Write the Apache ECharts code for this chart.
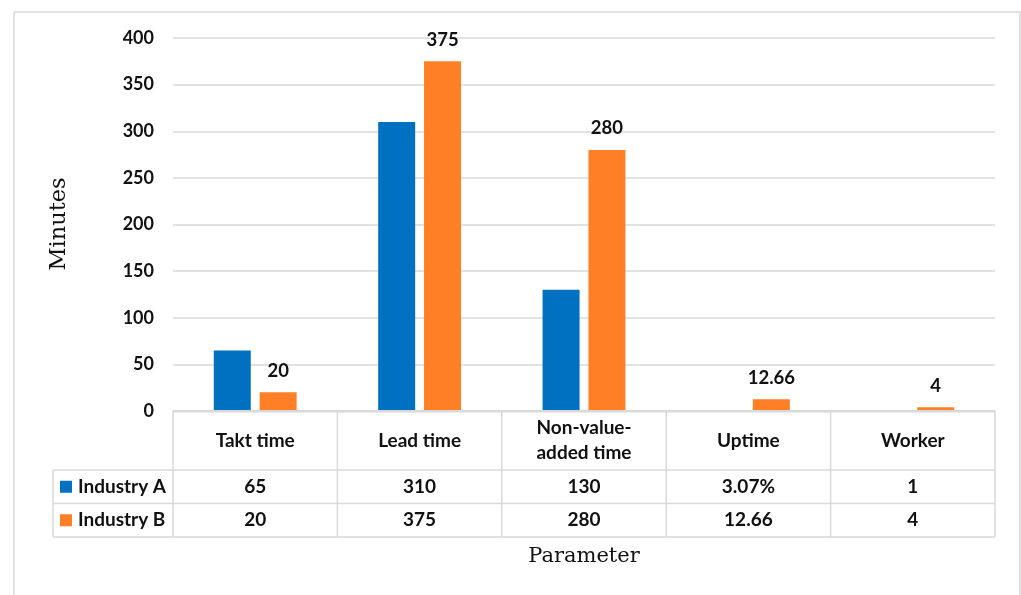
<!DOCTYPE html>
<html>
<head>
<meta charset="utf-8">
<script src="https://cdn.jsdelivr.net/npm/echarts@6/dist/echarts.min.js"></script>
<style>
html,body{margin:0;padding:0;background:#fff;}
#main{width:1021px;height:595px;}
</style>
</head>
<body>
<div id="main"></div>
<script>
// ---- data ----
const categories = ['Takt time', 'Lead time', 'Non-value-\nadded time', 'Uptime', 'Worker'];
const seriesNames = ['Industry A', 'Industry B'];
const industryA = [65, 310, 130, 0.0307, 1];
const industryB = [20, 375, 280, 12.66, 4];
const tableA = ['65', '310', '130', '3.07%', '1'];
const tableB = ['20', '375', '280', '12.66', '4'];
const yMin = 0, yMax = 400, yStep = 50;
const yTitle = 'Minutes';
const xTitle = 'Parameter';

// ---- style ----
const colors = ['#0070C0', '#FF7F27'];
const lineColor = '#d9d9d9';
const sansFont = 'Lato, "Open Sans", sans-serif';
const serifFont = '"DejaVu Serif", "Liberation Serif", serif';
const txtColor = '#111';

const chart = echarts.init(document.getElementById('main'), null, {renderer: 'canvas'});

const option = {
  animation: false,
  backgroundColor: '#fff',
  grid: {left: 173, right: 26, top: 38, bottom: 184, containLabel: false},
  xAxis: {
    type: 'category',
    data: categories,
    axisLine: {show: false},
    axisTick: {show: false},
    axisLabel: {show: false}
  },
  yAxis: {
    type: 'value',
    min: yMin, max: yMax, interval: yStep,
    axisLine: {show: false},
    axisTick: {show: false},
    axisLabel: {
      margin: 19,
      color: txtColor,
      fontFamily: sansFont,
      fontWeight: 'bold',
      fontSize: 18
    },
    splitLine: {lineStyle: {color: lineColor, width: 1.5}}
  },
  series: [
    {
      name: seriesNames[0],
      type: 'bar',
      data: industryA,
      barWidth: '22.5%',
      barGap: '24%',
      itemStyle: {color: colors[0]}
    },
    {
      name: seriesNames[1],
      type: 'bar',
      data: industryB,
      barWidth: '22.5%',
      itemStyle: {color: colors[1]},
      label: {
        show: true,
        position: 'top',
        distance: 12,
        color: txtColor,
        fontFamily: sansFont,
        fontWeight: 'bold',
        fontSize: 18.5
      }
    }
  ]
};
chart.setOption(option);

// ---- data table built from axis scale ----
function buildTable() {
  const c0 = chart.convertToPixel({xAxisIndex: 0}, 0);
  const c1 = chart.convertToPixel({xAxisIndex: 0}, 1);
  const band = c1 - c0;
  const left = c0 - band / 2;
  const right = left + band * categories.length;
  const yTop = chart.convertToPixel({yAxisIndex: 0}, 0);
  const headerH = 59, rowH = 33.5;
  const y1 = yTop + headerH, y2 = y1 + rowH, y3 = y2 + rowH;
  const legLeft = left - 120;
  const els = [];
  const ls = {stroke: lineColor, lineWidth: 1.5};
  const hline = (x1, x2, y, w) => els.push({type: 'line', z: 100, shape: {x1, y1: y, x2, y2: y}, style: {stroke: lineColor, lineWidth: w || 1.5}});
  const vline = (x, ya, yb) => els.push({type: 'line', z: 100, shape: {x1: x, y1: ya, x2: x, y2: yb}, style: ls});
  hline(left, right, yTop + 0.3, 2.6);
  hline(legLeft, right, y1);
  hline(legLeft, right, y2);
  hline(legLeft, right, y3);
  vline(legLeft, y1, y3);
  for (let i = 0; i <= categories.length; i++) vline(left + band * i, yTop, y3);
  const txt = (text, x, y, extra) => els.push({
    type: 'text', z: 101, x, y,
    style: Object.assign({
      text, fill: txtColor, font: 'bold 19px ' + sansFont,
      align: 'center', verticalAlign: 'middle', lineHeight: 25
    }, extra || {})
  });
  categories.forEach((c, i) => {
    const cx = left + band * (i + 0.5);
    txt(c, cx, yTop + headerH / 2);
    txt(tableA[i], cx, y1 + rowH / 2);
    txt(tableB[i], cx, y2 + rowH / 2);
  });
  [[y1, 0], [y2, 1]].forEach(([yy, k]) => {
    els.push({type: 'rect', z: 101, shape: {x: legLeft + 7, y: yy + rowH / 2 - 6, width: 12, height: 12}, style: {fill: colors[k]}});
    txt(seriesNames[k], legLeft + 25, yy + rowH / 2, {align: 'left'});
  });
  // axis titles
  els.push({type: 'text', z: 101, x: 59, y: 224, rotation: Math.PI / 2,
    style: {text: yTitle, fill: txtColor, font: '22.5px ' + serifFont, align: 'center', verticalAlign: 'middle'}});
  els.push({type: 'text', z: 101, x: 584, y: 557,
    style: {text: xTitle, fill: txtColor, font: '21px ' + serifFont, align: 'center', verticalAlign: 'middle'}});
  // outer frame
  els.push({type: 'rect', z: 0, shape: {x: 14, y: 12, width: 1006, height: 620}, style: {fill: 'none', stroke: lineColor, lineWidth: 1.5}});
  chart.setOption({graphic: els});
}
buildTable();
</script>
</body>
</html>
